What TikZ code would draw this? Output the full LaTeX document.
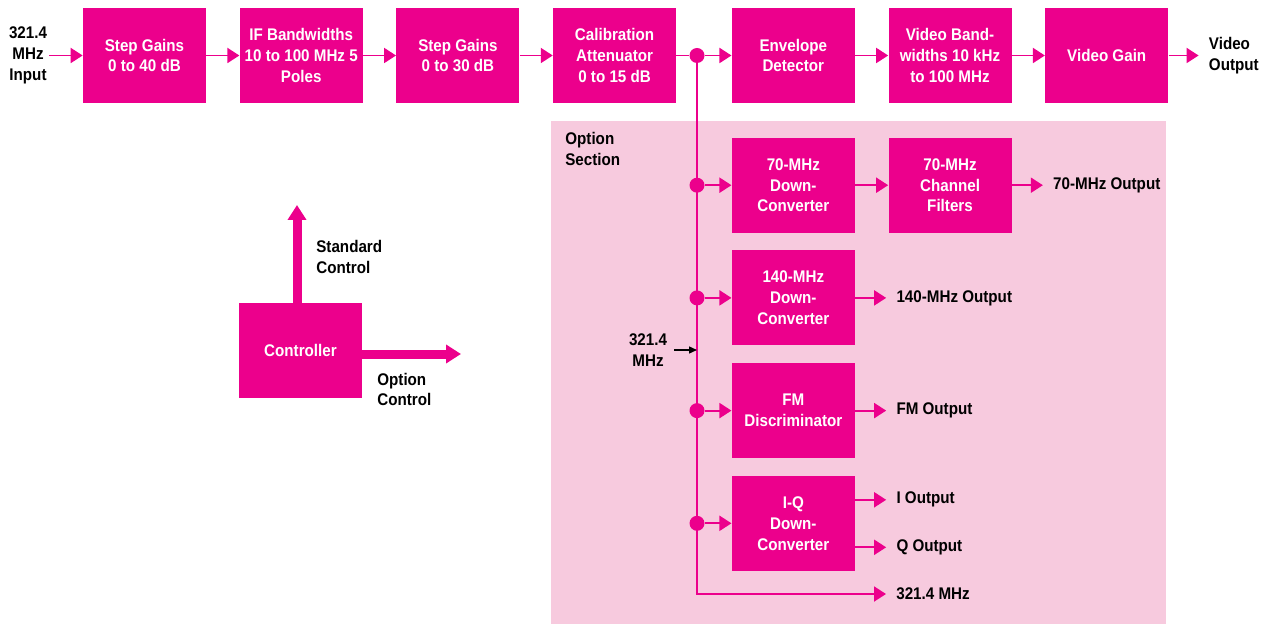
\documentclass[tikz,border=0pt]{standalone}
\usepackage{fontspec}
\setmainfont{Liberation Sans}[FakeStretch=0.9]
\usetikzlibrary{arrows.meta,positioning}
\definecolor{hpMagenta}{RGB}{236,0,140}
\definecolor{optPink}{RGB}{247,202,222}
\tikzset{
  blk/.style={fill=hpMagenta, text=white, align=center, minimum width=2.46cm, minimum height=1.9cm, inner sep=1pt, font=\bfseries\fontsize{9.6}{11.9}\selectfont},
  lbl/.style={align=left, inner xsep=0.2cm, inner ysep=1pt, font=\bfseries\fontsize{9.6}{11.9}\selectfont},
  dot/.style={circle, fill=hpMagenta, inner sep=0pt, minimum size=0.3cm},
  wire/.style={draw=hpMagenta, line width=1.1pt},
  flow/.style={wire, -{Triangle[length=0.24cm,width=0.3cm]}},
  bigflow/.style={draw=hpMagenta, line width=0.18cm, -{Triangle[length=0.3cm,width=0.36cm]}},
  inflow/.style={draw=black, line width=0.8pt, -{Triangle[length=0.16cm,width=0.14cm]}}
}
\begin{document}
\begin{tikzpicture}[node distance=0.66cm]
        \useasboundingbox (0,0) rectangle (25.32,-12.48);
        \fill[optPink] (11.02,-2.42) rectangle (23.32,-12.48);
        \node[lbl, anchor=west] (optsec) at (11.10,-2.98) {Option\\Section};

        \node[blk] (sg40) at (2.89,-1.11) {Step Gains\\0 to 40 dB};
        \node[blk, right=of sg40] (ifbw) {IF Bandwidths\\10 to 100 MHz 5\\Poles};
        \node[blk, right=of ifbw] (sg30) {Step Gains\\0 to 30 dB};
        \node[blk, right=of sg30] (cal) {Calibration\\Attenuator\\0 to 15 dB};
        \node[blk, right=1.1cm of cal] (env) {Envelope\\Detector};
        \node[blk, right=of env] (vbw) {Video Band-\\widths 10 kHz\\to 100 MHz};
        \node[blk, right=of vbw] (vgain) {Video Gain};
        \node[lbl, align=center, inner xsep=1pt] (inp) at (0.56,-1.11) {321.4\\MHz\\Input};
        \node[lbl, right=0.6cm of vgain] (vout) {Video\\Output};
        \node[dot] (tap) at (13.94,-1.11) {};

        \node[blk, below=0.68cm of env] (dc70) {70-MHz\\Down-\\Converter};
        \node[blk, right=of dc70] (chf) {70-MHz\\Channel\\Filters};
        \node[blk, below=0.34cm of dc70] (dc140) {140-MHz\\Down-\\Converter};
        \node[blk, below=0.34cm of dc140] (fmd) {FM\\Discriminator};
        \node[blk, below=0.34cm of fmd] (iq) {I-Q\\Down-\\Converter};
        \node[dot] (d70) at (tap |- dc70) {};
        \node[dot] (d140) at (tap |- dc140) {};
        \node[dot] (dfm) at (tap |- fmd) {};
        \node[dot] (diq) at (tap |- iq) {};

        \node[lbl, right=0.62cm of chf] (o70) {70-MHz Output};
        \node[lbl, right=0.62cm of dc140] (o140) {140-MHz Output};
        \node[lbl, right=0.62cm of fmd] (ofm) {FM Output};
        \node[lbl, anchor=west] (oI) at ([xshift=0.62cm,yshift=0.47cm]iq.east) {I Output};
        \node[lbl, anchor=west] (oQ) at ([xshift=0.62cm,yshift=-0.48cm]iq.east) {Q Output};
        \node[lbl, anchor=west] (oRF) at (17.72,-11.88) {321.4 MHz};
        \node[lbl, align=center, inner xsep=2pt] (busLbl) at (12.96,-7.0) {321.4\\MHz};
        \coordinate (busIn) at (tap |- busLbl);

        \node[blk] (ctrl) at (6.01,-7.01) {Controller};
        \coordinate (stdEnd) at (5.94,-4.10);
        \coordinate (optEnd) at (9.22,-7.08);
        \node[lbl, anchor=west] (stdLbl) at (6.12,-5.14) {Standard\\Control};
        \node[lbl, anchor=west] (optLbl) at (7.34,-7.79) {Option\\Control};

        \draw[flow] (inp) -- (sg40);
        \draw[flow] (sg40) -- (ifbw);
        \draw[flow] (ifbw) -- (sg30);
        \draw[flow] (sg30) -- (cal);
        \draw[wire] (cal) -- (tap);
        \draw[flow] (tap) -- (env);
        \draw[flow] (env) -- (vbw);
        \draw[flow] (vbw) -- (vgain);
        \draw[flow] (vgain) -- (vout);
        \draw[flow] (tap) |- (oRF);
        \draw[flow] (d70) -- (dc70);
        \draw[flow] (d140) -- (dc140);
        \draw[flow] (dfm) -- (fmd);
        \draw[flow] (diq) -- (iq);
        \draw[flow] (dc70) -- (chf);
        \draw[flow] (chf) -- (o70);
        \draw[flow] (dc140) -- (o140);
        \draw[flow] (fmd) -- (ofm);
        \draw[flow] (iq.east |- oI) -- (oI);
        \draw[flow] (iq.east |- oQ) -- (oQ);
        \draw[inflow] ([xshift=2pt]busLbl.east |- busIn) -- (busIn);
        \draw[bigflow] (ctrl.north -| stdEnd) -- (stdEnd);
        \draw[bigflow] (ctrl.east |- optEnd) -- (optEnd);
      \end{tikzpicture}
\end{document}
